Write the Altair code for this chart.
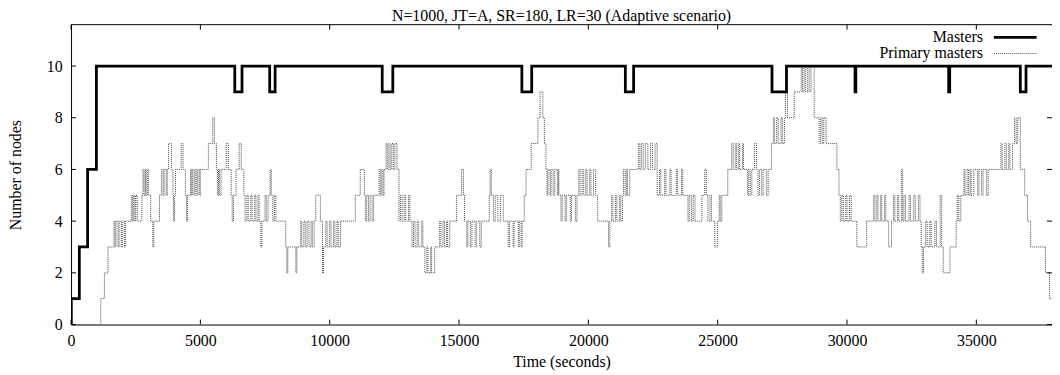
import altair as alt
import pandas as pd

title_text = "N=1000, JT=A, SR=180, LR=30 (Adaptive scenario)"
x_title = "Time (seconds)"
y_title = "Number of nodes"
series_names = ["Masters", "Primary masters"]
x_ticks = [0, 5000, 10000, 15000, 20000, 25000, 30000, 35000]
y_ticks = [0, 2, 4, 6, 8, 10]

masters_t = [0, 10, 320, 640, 980, 6330, 6610, 7680, 7890, 12030, 12440, 17430, 17810,
             21430, 21750, 27100, 27660, 30310, 30340, 33930, 33970, 36700, 36920, 37940]
masters_n = [0, 1, 3, 6, 10, 9, 10, 9, 10, 9, 10, 9, 10,
             9, 10, 9, 10, 9, 10, 9, 10, 9, 10, 10]

primary_t = [
    0, 1150, 1290, 1430, 1660, 1700, 1740, 1820, 1860, 1940, 1980, 2060, 2100,
    2330, 2380, 2420, 2470, 2500, 2560,
    2740, 2780, 2820, 2870, 2900, 2950, 3000,
    3080, 3160, 3200,
    3420, 3500, 3560, 3600, 3680, 3720, 3770, 3880,
    3940, 3960, 4000, 4040, 4260, 4330,
    4420, 4460, 4500,
    4620, 4660, 4700, 4760, 4800, 4860, 4900, 4960, 5000,
    5310, 5480, 5540, 5620,
    5660, 5700, 5740, 5800,
    6000, 6080,
    6190, 6230, 6280, 6380, 6500, 6580, 6680, 6730,
    6800, 6850, 6950, 7000, 7100, 7150, 7230, 7270,
    7340, 7380,
    7500, 7550, 7620, 7700, 7740, 7800, 7860, 7920,
    8300, 8340, 8380, 8690, 8730,
    8880, 8920, 9000, 9060, 9130, 9200, 9280, 9330, 9400,
    9460, 9640, 9720, 9760,
    9850, 9900, 9990, 10050, 10150, 10200, 10280, 10330, 10420,
    10990, 11180, 11340,
    11380, 11430, 11500, 11560, 11640, 11700,
    11910, 11960, 12010, 12060, 12100,
    12180, 12230, 12290, 12340, 12400, 12460, 12520, 12600,
    12680, 12740, 12800, 12880, 12940, 13050, 13100,
    13180, 13240, 13300, 13380, 13440, 13560, 13600,
    13680, 13760, 13800, 13900, 13940, 14060,
    14250, 14300, 14380, 14440, 14520, 14560, 14640,
    14900, 15100, 15170, 15210,
    15300, 15340, 15440, 15500, 15620, 15680, 15800, 15860,
    16170, 16200, 16250, 16330, 16400, 16500, 16600, 16710,
    16900, 16950, 17090, 17130, 17290, 17330, 17400, 17440,
    17520, 17590, 17790, 18050, 18130, 18240, 18300, 18360,
    18400, 18440, 18520, 18560, 18640, 18700, 18800, 18840,
    18860, 18940, 18990, 19100, 19150, 19300, 19350, 19500, 19560,
    19630, 19680, 19760, 19820, 19900, 19950, 20050, 20100, 20200, 20280,
    20360, 20780, 20830,
    20900, 20950, 21050, 21100, 21200, 21250,
    21320, 21360, 21420, 21480, 21510, 21600,
    21930, 21990, 22050, 22120, 22200, 22300, 22400, 22480, 22580,
    22660, 22750, 22800, 22950, 23000, 23150, 23200, 23400, 23450, 23600, 23650,
    23850, 23900, 23980, 24050, 24120,
    24390, 24500, 24560,
    24620, 24700, 24760, 24890, 25000, 25060, 25100,
    25160, 25390, 25540, 25600, 25680, 25730, 25800, 25850, 25960, 26000,
    26160, 26200, 26260, 26320, 26420, 26500, 26560, 26620, 26700, 26760, 26880, 26950,
    27080, 27150, 27200, 27280, 27340, 27450, 27500,
    27580, 27620, 27700, 27960, 28230, 28280, 28340, 28400, 28480, 28540, 28610,
    28730, 28920, 28980, 29040, 29100, 29190,
    29610, 29690, 29740, 29800, 29860, 29950, 30000, 30100, 30160,
    30380, 30760,
    31030, 31080, 31150, 31200, 31300, 31340, 31450, 31500,
    31610, 31720, 31800, 31850, 31950, 32000, 32100, 32150,
    32200, 32260, 32400, 32450, 32580, 32640, 32760, 32820,
    32870, 32910, 32960, 33040, 33100, 33200, 33250, 33400, 33460,
    33600, 33660, 33720, 33980,
    34220, 34260, 34320, 34400, 34520, 34560, 34640, 34700, 34760, 34800, 34900,
    35050, 35100, 35200, 35260, 35400, 35460,
    35950, 36000, 36100, 36160, 36250, 36300, 36400, 36480, 36540, 36600, 36700,
    36870, 36980, 37100, 37670, 37830, 37940,
]
primary_n = [
    0, 1, 2, 3, 4, 3, 4, 3, 4, 3, 4, 3, 4,
    5, 4, 5, 4, 5, 4,
    5, 6, 5, 6, 5, 6, 5,
    4, 3, 4,
    5, 6, 5, 6, 5, 6, 7, 6,
    5, 4, 5, 6, 7, 6,
    5, 4, 5,
    6, 5, 6, 5, 6, 5, 6, 5, 6,
    7, 8, 7, 6,
    5, 6, 5, 6,
    7, 6,
    5, 4, 5, 6, 7, 6, 5, 4,
    5, 4, 5, 4, 5, 4, 5, 4,
    3, 4,
    5, 4, 5, 6, 5, 4, 5, 4,
    3, 2, 3, 2, 3,
    4, 3, 4, 3, 4, 3, 4, 3, 4,
    5, 4, 2, 3,
    4, 3, 4, 3, 4, 3, 4, 3, 4,
    5, 6, 5,
    4, 5, 4, 5, 4, 5,
    6, 5, 6, 5, 6,
    7, 6, 7, 6, 7, 6, 7, 6,
    4, 5, 4, 5, 4, 5, 4,
    3, 4, 3, 4, 3, 4, 3,
    2, 3, 2, 3, 2, 3,
    4, 3, 4, 3, 4, 3, 4,
    5, 6, 5, 4,
    3, 4, 3, 4, 3, 4, 3, 4,
    5, 6, 5, 4, 5, 4, 5, 4,
    3, 4, 3, 4, 3, 4, 3, 4,
    5, 6, 7, 8, 9, 8, 7, 6,
    5, 6, 5, 6, 5, 6, 5, 6,
    5, 4, 5, 4, 5, 4, 5, 4, 5,
    6, 5, 6, 5, 6, 5, 6, 5, 6, 5,
    4, 3, 4,
    5, 4, 5, 4, 5, 4,
    5, 6, 5, 6, 5, 6,
    7, 6, 7, 6, 7, 6, 7, 6, 7,
    5, 6, 5, 6, 5, 6, 5, 6, 5, 6, 5,
    4, 5, 4, 5, 4,
    5, 6, 5,
    4, 5, 4, 3, 4, 5, 4,
    5, 6, 7, 6, 7, 6, 7, 6, 7, 6,
    5, 6, 5, 6, 7, 6, 5, 6, 5, 6, 5, 6,
    7, 8, 7, 8, 7, 8, 7,
    8, 9, 8, 9, 10, 9, 10, 9, 10, 9, 10,
    8, 7, 8, 7, 8, 7,
    6, 5, 4, 5, 4, 5, 4, 5, 4,
    3, 4,
    5, 4, 5, 4, 5, 4, 5, 4,
    3, 4, 5, 4, 5, 4, 6, 4,
    5, 4, 5, 4, 5, 4, 5, 4,
    3, 2, 3, 4, 3, 4, 3, 4, 3,
    5, 3, 2, 3,
    4, 5, 4, 5, 6, 5, 6, 5, 6, 5, 6,
    5, 6, 5, 6, 5, 6,
    7, 6, 7, 6, 7, 6, 7, 8, 7, 8, 6,
    5, 4, 3, 2, 1, 1,
]

FONT = "Liberation Serif"
W, H = 988, 302
X_MAX = 37925
Y_MAX = 11.6

masters_df = pd.DataFrame({"t": masters_t, "n": masters_n, "series": series_names[0]})
primary_df = pd.DataFrame({"t": primary_t, "n": primary_n, "series": series_names[1]})
xt_df = pd.DataFrame({"t": x_ticks})
yt_df = pd.DataFrame({"n": y_ticks})
one_df = pd.DataFrame({"k": [0]})

x_scale = alt.Scale(domain=[0, X_MAX], nice=False, zero=False)
y_scale = alt.Scale(domain=[0, Y_MAX], nice=False, zero=False)

x_enc = alt.X("t:Q", scale=x_scale, axis=alt.Axis(
    values=x_ticks, title=x_title, ticks=False, grid=False, format="d",
    labelPadding=8.5, labelFlush=False, labelOverlap=False,
    titleX=W / 2, titleY=37, titleBaseline="middle", titleAlign="center",
    domainColor="black", domainWidth=1))
y_enc = alt.Y("n:Q", scale=y_scale, axis=alt.Axis(
    values=y_ticks, title=y_title, ticks=False, grid=False, format="d",
    labelPadding=9, labelFlush=False, labelOverlap=False,
    titleX=-56, titleY=H / 2, titleAngle=270, titleBaseline="middle", titleAlign="center",
    domainColor="black", domainWidth=1))

primary_line = alt.Chart(primary_df).mark_line(
    interpolate="step-after", color="#4a4a4a", strokeWidth=1, strokeDash=[1, 1], clip=True
).encode(x=x_enc, y=y_enc)

masters_line = alt.Chart(masters_df).mark_line(
    interpolate="step-after", color="black", strokeWidth=2.8, clip=True
).encode(x=x_enc, y=y_enc)

bottom_ticks = alt.Chart(xt_df).mark_rule(color="black", strokeWidth=1).encode(
    x=x_enc, y=alt.value(H), y2=alt.value(H - 5))
top_ticks = alt.Chart(xt_df).mark_rule(color="black", strokeWidth=1).encode(
    x=x_enc, y=alt.value(0), y2=alt.value(5))
left_ticks = alt.Chart(yt_df).mark_rule(color="black", strokeWidth=1).encode(
    y=y_enc, x=alt.value(0), x2=alt.value(5))
right_ticks = alt.Chart(yt_df).mark_rule(color="black", strokeWidth=1).encode(
    y=y_enc, x=alt.value(W), x2=alt.value(W - 5))
top_border = alt.Chart(one_df).mark_rule(color="black", strokeWidth=1).encode(
    x=alt.value(0), x2=alt.value(W), y=alt.value(0))

leg_text_x = 918.5
leg_line_x1, leg_line_x2 = 929.5, 972.5
leg_y = [12.8, 29.0]

leg_m_text = alt.Chart(pd.DataFrame({"s": [series_names[0]]})).mark_text(
    font=FONT, fontSize=16, align="right", baseline="middle", color="black"
).encode(text="s:N", x=alt.value(leg_text_x), y=alt.value(leg_y[0]))
leg_m_line = alt.Chart(one_df).mark_rule(color="black", strokeWidth=2.8).encode(
    x=alt.value(leg_line_x1), x2=alt.value(leg_line_x2), y=alt.value(leg_y[0]))
leg_p_text = alt.Chart(pd.DataFrame({"s": [series_names[1]]})).mark_text(
    font=FONT, fontSize=16, align="right", baseline="middle", color="black"
).encode(text="s:N", x=alt.value(leg_text_x), y=alt.value(leg_y[1]))
leg_p_line = alt.Chart(one_df).mark_rule(color="#4a4a4a", strokeWidth=1, strokeDash=[1, 1]).encode(
    x=alt.value(leg_line_x1), x2=alt.value(leg_line_x2), y=alt.value(leg_y[1]))

chart = alt.layer(
    primary_line, masters_line,
    bottom_ticks, top_ticks, left_ticks, right_ticks, top_border,
    leg_m_text, leg_m_line, leg_p_text, leg_p_line,
).properties(
    width=W, height=H,
    title=alt.TitleParams(text=title_text, font=FONT, fontSize=16, fontWeight="normal",
                          color="black", anchor="middle", offset=0.5),
    padding={"left": 63.5, "top": 15.5, "right": 0, "bottom": 45},
    autosize=alt.AutoSizeParams(type="none"),
).configure_view(stroke=None).configure_axis(
    labelFont=FONT, titleFont=FONT, labelFontSize=16, titleFontSize=16,
    labelColor="black", titleColor="black", titleFontWeight="normal",
)

chart.save("out.html", embed_options={"renderer": "svg", "actions": False})
